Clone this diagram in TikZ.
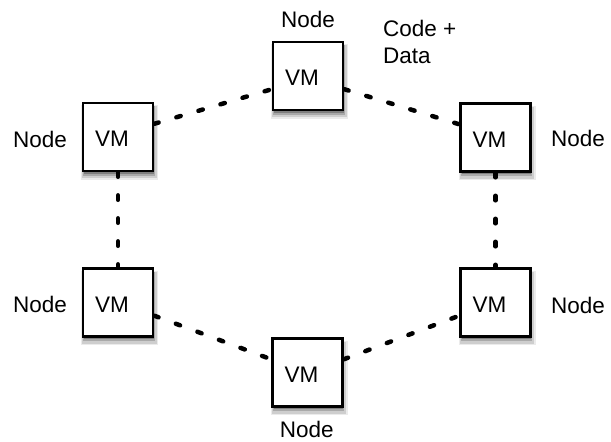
\documentclass[tikz,border=0pt]{standalone}
\usepackage{fontspec}
\setmainfont{Liberation Sans}
\usetikzlibrary{shadows}
\begin{document}
\begin{tikzpicture}[x=1pt,y=-1pt,
  every node/.style={font=\fontsize{22.5}{26.7}\selectfont},
  vm/.style={draw=black, line width=2.6pt, fill=white, minimum width=70pt, minimum height=68pt, inner sep=0pt,
    drop shadow={shadow xshift=1.5pt, shadow yshift=-5pt, fill=black, opacity=0.08, shadow scale=1.10},
    drop shadow={shadow xshift=1.5pt, shadow yshift=-5pt, fill=black, opacity=0.12, shadow scale=1.06},
    drop shadow={shadow xshift=1pt, shadow yshift=-4pt, fill=black, opacity=0.18, shadow scale=1.02},
    drop shadow={shadow xshift=1pt, shadow yshift=-3pt, fill=black, opacity=0.25, shadow scale=0.99},
    label={[xshift=-6pt,yshift=-2pt]center:VM}},
  lbl/.style={anchor=base, inner sep=0pt},
  link/.style={line width=4.5pt, line cap=round, dash pattern=on 4.5pt off 18.5pt}]
\useasboundingbox (0,0) rectangle (611,442);
\node[vm] (t) at (308,76) {};
\node[vm] (lt) at (118,137) {};
\node[vm] (lb) at (118,302.5) {};
\node[vm] (b) at (307.5,372.5) {};
\node[vm] (rt) at (495.5,137.5) {};
\node[vm] (rb) at (495.5,302.5) {};
\node[lbl] (nt) at (308,27.7) {Node};
\node[lbl] (nlt) at (40,147.7) {Node};
\node[lbl] (nlb) at (40,312.3) {Node};
\node[lbl] (nrt) at (578,146.5) {Node};
\node[lbl] (nrb) at (578,313) {Node};
\node[lbl] (nb) at (306.7,437.5) {Node};
\node[anchor=base west, inner sep=0pt, align=left] (cd) at (383,63.3) {Code +\\Data};
\draw[link] (lt.20) -- (t.200);
\draw[link] (t.340) -- (rt.160);
\draw[link] (lt.south) -- (lb.north);
\draw[link] (rt.south) -- (rb.north);
\draw[link] (lb.340) -- (b.160);
\draw[link] (b.20) -- (rb.200);
\end{tikzpicture}
\end{document}
